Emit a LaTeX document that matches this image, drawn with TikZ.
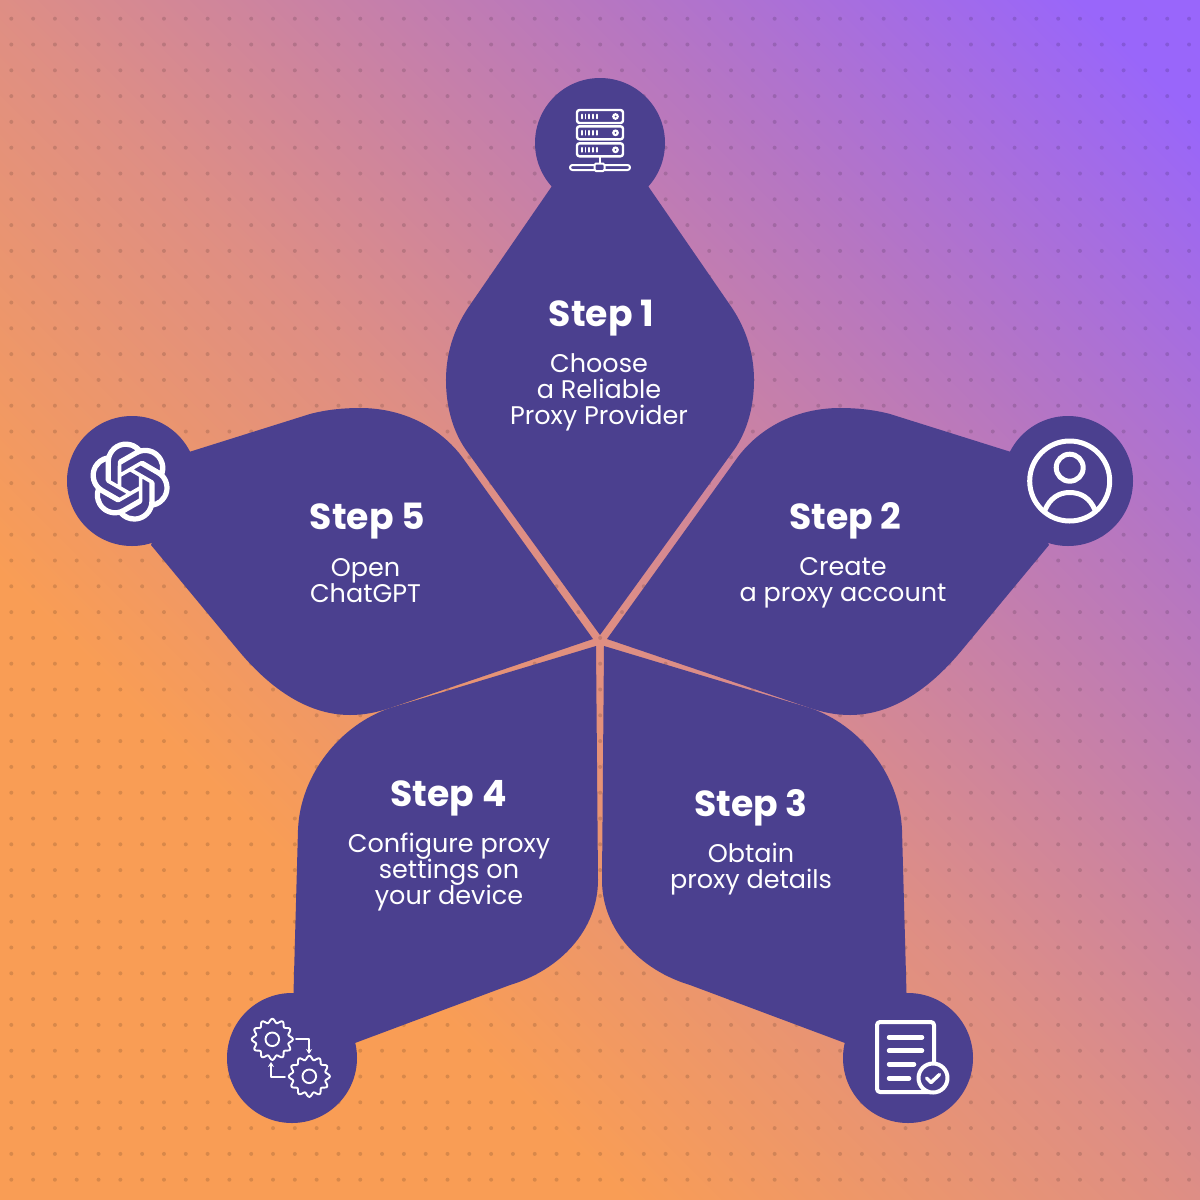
\documentclass[tikz,border=0pt]{standalone}
\usepackage{fontspec}
\setmainfont{Poppins}
\usetikzlibrary{svg.path,arrows.meta}
\definecolor{petal}{HTML}{4B408F}
\definecolor{gA}{HTML}{F99D55}
\definecolor{gB}{HTML}{DE8E85}
\definecolor{gC}{HTML}{B676C2}
\definecolor{gD}{HTML}{9966FA}
\definecolor{gE}{HTML}{9966FF}
\pgfdeclarehorizontalshading{bgshade}{100bp}{
 color(0bp)=(gA);
 color(33bp)=(gA);
 color(50bp)=(gB);
 color(68bp)=(gC);
 color(82bp)=(gD);
 color(100bp)=(gE)}
\newcommand{\ls}{\rule[-5pt]{0pt}{26pt}}
\newcommand{\bodyfont}{\fontsize{25.5}{26}\selectfont\lineskiplimit=-30pt\relax}
\tikzset{
 x=1pt,y=-1pt,
 petalfill/.style={fill=petal,draw=none},
 icon/.style={draw=white,line width=2.4pt,line cap=round,line join=round},
 head/.style={text=white,font=\bfseries\fontsize{36.2}{36.2}\selectfont,inner sep=0,anchor=center},
 bodytext/.style={text=white,font=\bodyfont,inner sep=0,align=center,anchor=center},
}
\newcommand{\petaltwo}{(607,639) -- (735,461) .. controls (757,429) and (795,408) .. (840,408) .. controls (858,408) and (875,410) .. (890,414) -- (1011,452) -- (1049,545) -- (962,650) .. controls (933,685) and (895,715) .. (850,715) .. controls (835,715) and (822,712) .. (810,708) -- cycle}
\newcommand{\petalthree}{(604,646) -- (602,880) .. controls (602,930) and (640,970) .. (690,985) -- (845,1043) -- (906.5,993) -- (902,830) .. controls (900,775) and (860,725) .. (810,708) -- cycle}
\begin{document}
\begin{tikzpicture}
\useasboundingbox (0,0) rectangle (1200,1200);
\shade[shading=bgshade,shading angle=45] (0,0) rectangle (1200,1200);
\foreach \i in {0,...,54}{\foreach \j in {0,...,45}{
 \fill[black,opacity=.13] ({11.3+21.81*\i},{18.7+25.8*\j}) circle (2);
}}
% petals
\fill[petalfill] (600,635) -- (466,450) .. controls (452,430) and (446,405) .. (446,380) .. controls (446,350) and (456,325) .. (470,305) -- (552,186) -- (648,186) -- (730,305) .. controls (744,325) and (754,350) .. (754,380) .. controls (754,405) and (748,430) .. (734,450) -- cycle;
\fill[petalfill] (600,143) circle (65);
\fill[petalfill] \petaltwo;
\fill[petalfill] (1068,481) circle (65);
\fill[petalfill] \petalthree;
\fill[petalfill] (908,1058) circle (65);
\begin{scope}[shift={(1200,0)},xscale=-1]
\fill[petalfill] \petaltwo;
\fill[petalfill] (1068,481) circle (65);
\fill[petalfill] \petalthree;
\fill[petalfill] (908,1058) circle (65);
\end{scope}
% server icon
\foreach \y in {110,126.3,143.3}{
 \draw[icon,rounded corners=2.5] (577,\y) rectangle (623,\y+13);
 \foreach \x in {582,585.5,589,593,597}{\draw[icon,line width=1.8pt] (\x,\y+4.5) -- (\x,\y+8.5);}
 \fill[white] (615.5,\y+6.5) circle (3.4);
 \fill[petal] (615.5,\y+6.5) circle (1);
}
\draw[icon,line width=2pt] (600,157) -- (600,165);
\draw[icon,line width=2pt,rounded corners=2.5] (570,165) rectangle (630,170);
\draw[icon,line width=2pt,fill=petal,rounded corners=1.5] (594.5,163.5) rectangle (604.5,171);
% openai
\begin{scope}[shift={(90,441.5)},yscale=-1,scale=3.34]
\fill[white] svg {M 22.2819 9.8211 a 5.9847 5.9847 0 0 0 -0.5157 -4.9108 6.0462 6.0462 0 0 0 -6.5098 -2.9 A 6.0651 6.0651 0 0 0 4.9807 4.1818 a 5.9847 5.9847 0 0 0 -3.9977 2.9 6.0462 6.0462 0 0 0 0.7427 7.0966 5.98 5.98 0 0 0 0.511 4.9107 6.051 6.051 0 0 0 6.5146 2.9001 A 5.9847 5.9847 0 0 0 13.2599 24 a 6.0557 6.0557 0 0 0 5.7718 -4.2058 5.9894 5.9894 0 0 0 3.9977 -2.9001 6.0557 6.0557 0 0 0 -0.7475 -7.0729 z m -9.022 12.6081 a 4.4755 4.4755 0 0 1 -2.8764 -1.0408 l 0.1419 -0.0804 4.7783 -2.7582 a 0.7948 0.7948 0 0 0 0.3927 -0.6813 v -6.7369 l 2.02 1.1686 a 0.071 0.071 0 0 1 0.038 0.052 v 5.5826 a 4.504 4.504 0 0 1 -4.4945 4.4944 z m -9.6607 -4.1254 a 4.4708 4.4708 0 0 1 -0.5346 -3.0137 l 0.142 0.0852 4.783 2.7582 a 0.7712 0.7712 0 0 0 0.7806 0 l 5.8428 -3.3685 v 2.3324 a 0.0804 0.0804 0 0 1 -0.0332 0.0615 L 9.74 19.9502 a 4.4992 4.4992 0 0 1 -6.1408 -1.6464 z M 2.3408 7.8956 a 4.485 4.485 0 0 1 2.3655 -1.9728 V 11.6 a 0.7664 0.7664 0 0 0 0.3879 0.6765 l 5.8144 3.3543 -2.0201 1.1685 a 0.0757 0.0757 0 0 1 -0.071 0 l -4.8303 -2.7865 A 4.504 4.504 0 0 1 2.3408 7.872 z m 16.5963 3.8558 L 13.1038 8.364 15.1192 7.2 a 0.0757 0.0757 0 0 1 0.071 0 l 4.8303 2.7913 a 4.4944 4.4944 0 0 1 -0.6765 8.1042 v -5.6772 a 0.79 0.79 0 0 0 -0.407 -0.667 z m 2.0107 -3.0231 l -0.142 -0.0852 -4.7735 -2.7818 a 0.7759 0.7759 0 0 0 -0.7854 0 L 9.409 9.2297 V 6.8974 a 0.0662 0.0662 0 0 1 0.0284 -0.0615 l 4.8303 -2.7866 a 4.4992 4.4992 0 0 1 6.6802 4.66 z M 8.3065 12.863 l -2.02 -1.1638 a 0.0804 0.0804 0 0 1 -0.038 -0.0567 V 6.0742 a 4.4992 4.4992 0 0 1 7.3757 -3.4537 l -0.142 0.0805 L 8.704 5.459 a 0.7948 0.7948 0 0 0 -0.3927 0.6813 l -0.0095 6.7227 z m 1.0976 -2.3654 l 2.602 -1.4998 2.6069 1.4998 v 2.9994 l -2.5974 1.4997 -2.6067 -1.4997 Z};
\end{scope}
% person
\draw[icon,line width=5pt] (1069.7,481) circle (40);
\draw[icon,line width=5pt] (1069.7,467.7) circle (13.5);
\draw[icon,line width=5pt] (1045,510) .. controls (1050,498) and (1059,492.5) .. (1069.7,492.5) .. controls (1081,492.5) and (1090,498) .. (1095,510);
% gears
\foreach \cx/\cy in {272.3/1039.3,309.3/1076.3}{
 \draw[icon,line width=1.9pt] plot[smooth cycle,samples=96,domain=0:356.25,variable=\t] ({\cx+(18.6+2*cos(12*\t))*cos(\t)},{\cy+(18.6+2*cos(12*\t))*sin(\t)});
 \draw[icon,line width=1.9pt] (\cx,\cy) circle (6.8);
}
\draw[icon,line width=1.9pt,-{Stealth[length=5pt,width=6pt]}] (296,1039.3) -- (309,1039.3) -- (309,1054);
\draw[icon,line width=1.9pt,-{Stealth[length=5pt,width=6pt]}] (285,1076.7) -- (271,1076.7) -- (271,1062);
% document
\draw[icon,line width=4pt,rounded corners=3] (877,1022) rectangle (934,1092);
\foreach \y/\xe in {1037.3/922,1050.7/922,1064.3/914,1078.3/909}{
 \draw[icon,line width=4.5pt] (889,\y) -- (\xe,\y);
}
\draw[icon,line width=4pt,fill=petal] (933,1078) circle (14.5);
\draw[icon,line width=3.5pt] (926.5,1078) -- (931,1082.5) -- (939.5,1074.5);
% texts
\node[head] (s1t) at (601.5,318) {Step 1};
\node[bodytext] (s1b) at (599,391) {\ls Choose\\\ls a Reliable\\\ls Proxy Provider};
\node[head] (s2t) at (845.5,521) {Step 2};
\node[bodytext] (s2b) at (843,581) {\ls Create\\\ls a proxy account};
\node[head] (s3t) at (751,808) {Step 3};
\node[bodytext] (s3b) at (751,868) {\ls Obtain\\\ls proxy details};
\node[head] (s4t) at (448.5,798) {Step 4};
\node[bodytext] (s4b) at (449,871) {\ls Configure proxy\\\ls settings on\\\ls your device};
\node[head] (s5t) at (367.5,521) {Step 5};
\node[bodytext] (s5b) at (365.5,581) {\ls Open\\\ls ChatGPT};
\end{tikzpicture}
\end{document}
